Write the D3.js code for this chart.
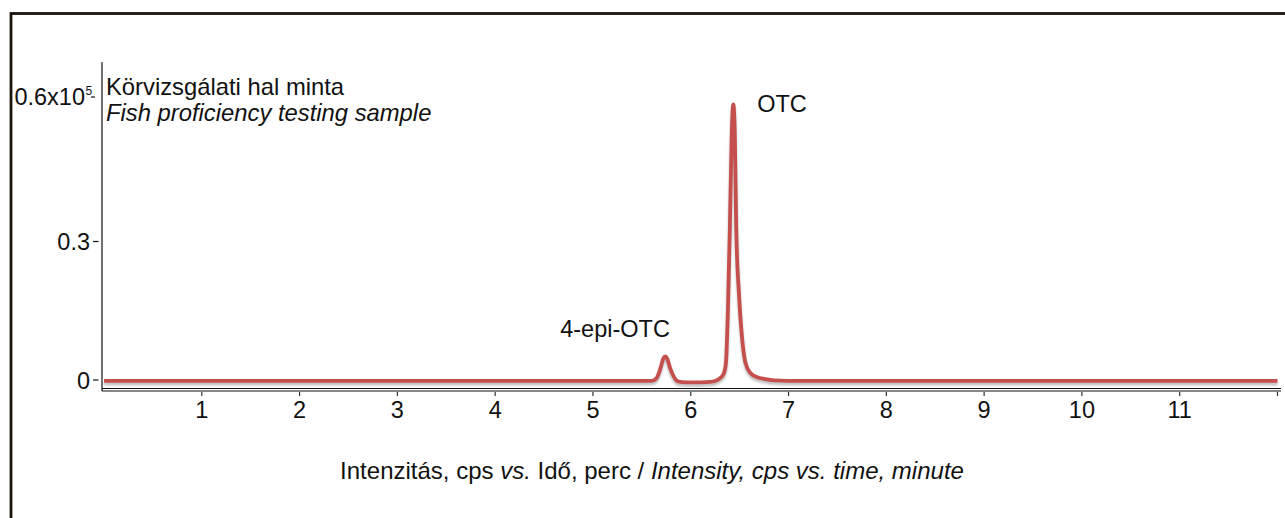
<!DOCTYPE html>
<html>
<head>
<meta charset="utf-8">
<script src="https://cdn.jsdelivr.net/npm/d3@7"></script>
<style>
  body { margin: 0; background: #fff; }
  svg { display: block; font-family: "Liberation Sans", Arial, sans-serif; }
</style>
</head>
<body>
<svg id="chart"></svg>
<script>
// retention time, minutes
const times = [0, 1, 2, 3, 4, 5, 5.5, 5.6, 5.65, 5.69, 5.72, 5.74, 5.76, 5.79, 5.83, 5.87,
  5.95, 6.1, 6.2, 6.25, 6.3, 6.34, 6.36, 6.38, 6.4, 6.42, 6.435, 6.45, 6.465, 6.495,
  6.53, 6.56, 6.61, 6.68, 6.76, 6.85, 7, 8, 9, 10, 11, 12];
// intensity, x10^5 cps
const intensity = [-0.002, -0.002, -0.002, -0.002, -0.002, -0.002, -0.002, -0.002, 0.004, 0.025, 0.047, 0.051, 0.046, 0.025, 0.006, -0.003,
  -0.005, -0.005, -0.004, -0.002, 0.004, 0.015, 0.037, 0.15, 0.33, 0.54, 0.597, 0.54, 0.33, 0.18,
  0.08, 0.037, 0.015, 0.006, 0.002, -0.001, -0.002, -0.002, -0.002, -0.002, -0.002, -0.002];
const xTicks = [1, 2, 3, 4, 5, 6, 7, 8, 9, 10, 11];
const yTicks = [0, 0.3];
const peakLabels = [
  { name: "OTC", t: 6.68, v: 0.6 },
  { name: "4-epi-OTC", t: 4.665, v: 0.111 }
];

const width = 1285, height = 518;
const fs = "23.5px";
const svg = d3.select("#chart").attr("width", width).attr("height", height);

// outer frame
svg.append("rect")
  .attr("x", 11).attr("y", 13.5)
  .attr("width", 1300).attr("height", 600)
  .attr("fill", "none")
  .attr("stroke", "#1a140c")
  .attr("stroke-width", 2.8);

const x = d3.scaleLinear().domain([0, 12]).range([104, 1277.5]);
const y = d3.scaleLinear().domain([0, 0.6]).range([380, 103]);

const defs = svg.append("defs");
const f = defs.append("filter").attr("id", "shadow")
  .attr("x", "-5%").attr("y", "-5%").attr("width", "110%").attr("height", "120%");
f.append("feDropShadow")
  .attr("dx", 0).attr("dy", 2.5).attr("stdDeviation", 1.3)
  .attr("flood-color", "#888").attr("flood-opacity", 0.55);

// axes
svg.append("line")
  .attr("x1", 102).attr("x2", 102)
  .attr("y1", 62).attr("y2", 391)
  .attr("stroke", "#111").attr("stroke-width", 1.2);
svg.append("line")
  .attr("x1", 102).attr("x2", 1281)
  .attr("y1", 388.5).attr("y2", 388.5)
  .attr("stroke", "#111").attr("stroke-width", 1);
svg.append("line")
  .attr("x1", 102).attr("x2", 1281)
  .attr("y1", 391).attr("y2", 391)
  .attr("stroke", "#111").attr("stroke-width", 1);

svg.append("g").selectAll("line")
  .data(xTicks.concat([12]))
  .enter().append("line")
  .attr("x1", d => x(d)).attr("x2", d => x(d))
  .attr("y1", 392).attr("y2", 396)
  .attr("stroke", "#333").attr("stroke-width", 1.2);

svg.append("g").selectAll("text")
  .data(xTicks)
  .enter().append("text")
  .attr("x", d => x(d))
  .attr("y", 418)
  .attr("text-anchor", "middle")
  .attr("font-size", fs)
  .attr("fill", "#111")
  .text(d => d);

// y ticks
svg.append("g").selectAll("line")
  .data(yTicks)
  .enter().append("line")
  .attr("x1", 93).attr("x2", 98.5)
  .attr("y1", d => y(d)).attr("y2", d => y(d))
  .attr("stroke", "#111").attr("stroke-width", 1.2);

svg.append("g").selectAll("text")
  .data(yTicks)
  .enter().append("text")
  .attr("x", 90)
  .attr("y", d => y(d) + 8.5)
  .attr("text-anchor", "end")
  .attr("font-size", fs)
  .attr("fill", "#111")
  .text(d => d);

// top tick label with exponent
svg.append("text")
  .attr("x", 85).attr("y", y(0.6) + 1.5)
  .attr("text-anchor", "end")
  .attr("font-size", fs).attr("fill", "#111")
  .text("0.6x10");
svg.append("text")
  .attr("x", 85.5).attr("y", y(0.6) - 8)
  .attr("font-size", "12px").attr("fill", "#111")
  .text("5");
svg.append("line")
  .attr("x1", 91).attr("x2", 95)
  .attr("y1", y(0.6) - 6).attr("y2", y(0.6) - 6)
  .attr("stroke", "#111").attr("stroke-width", 1.2);

// sample title
svg.append("text")
  .attr("x", 106).attr("y", 95)
  .attr("font-size", "23.8px").attr("fill", "#111")
  .text("Körvizsgálati hal minta");
svg.append("text")
  .attr("x", 106).attr("y", 121)
  .attr("font-size", "23.8px").attr("font-style", "italic").attr("fill", "#111")
  .text("Fish proficiency testing sample");

// chromatogram trace
const line = d3.line()
  .x((d, i) => x(times[i]))
  .y(d => y(d))
  .curve(d3.curveMonotoneX);

svg.append("path")
  .datum(intensity)
  .attr("d", line)
  .attr("fill", "none")
  .attr("stroke", "#c4504e")
  .attr("stroke-width", 3.8)
  .attr("stroke-linejoin", "round")
  .attr("filter", "url(#shadow)");

// peak labels
svg.append("g").selectAll("text")
  .data(peakLabels)
  .enter().append("text")
  .attr("x", d => x(d.t))
  .attr("y", d => y(d.v) + 8.5)
  .attr("font-size", fs)
  .attr("fill", "#111")
  .text(d => d.name);

// x axis title
const title = svg.append("text")
  .attr("x", 652).attr("y", 479)
  .attr("text-anchor", "middle")
  .attr("font-size", "24px")
  .attr("fill", "#111");
title.append("tspan").text("Intenzitás, cps ");
title.append("tspan").attr("font-style", "italic").text("vs.");
title.append("tspan").text(" Idő, perc / ");
title.append("tspan").attr("font-style", "italic").text("Intensity, cps vs. time, minute");
</script>
</body>
</html>
